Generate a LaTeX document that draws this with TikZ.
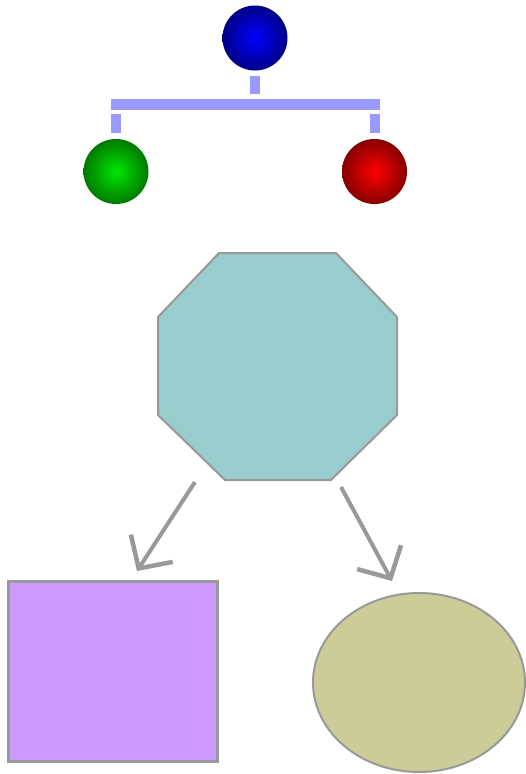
\documentclass[tikz,border=0pt]{standalone}
\usetikzlibrary{arrows.meta,shapes.geometric}

\definecolor{busblue}{RGB}{153,153,255}
\definecolor{edgegray}{RGB}{153,153,153}
\definecolor{octfill}{RGB}{153,204,204}
\definecolor{boxfill}{RGB}{204,153,255}
\definecolor{ovalfill}{RGB}{204,204,153}
\colorlet{sphc}{blue}

% sphere shading, bright in the middle, dark at the rim
\pgfdeclareradialshading[sphc]{sphere}{\pgfpoint{0bp}{0bp}}{color(0bp)=(sphc); color(16bp)=(sphc!70!black); color(50bp)=(sphc!5!black)}

\tikzset{
	sphere color/.code={\colorlet{sphc}{#1}},
	sphere/.style={circle, minimum size=65, inner sep=0, shading=sphere},
	bus/.style={busblue, line width=10, line cap=butt},
	shapeline/.style={draw=edgegray, line width=2},
	pointer/.style={edgegray, line width=4, -{Straight Barb[length=24pt,width=50pt,line width=4.5pt]}}
}
\tikzset{every picture/.style={line width=0.75pt}}

\begin{document}
\begin{tikzpicture}[x=1pt,y=1pt,yscale=-1]
	\fill[white] (0,0) rectangle (526,774);
	\useasboundingbox (0,0) rectangle (526,774);

	%Shape: Spheres
	\node[sphere, sphere color=blue] (top) at (255,38) {};
	\node[sphere, sphere color={rgb,255:red,0;green,230;blue,0}] (green) at (116,171.5) {};
	\node[sphere, sphere color=red] (red) at (374.5,171.5) {};

	%Straight Lines: tree connector
	\draw[bus] (top.south) ++(0,5) -- ++(0,18.5);
	\path (green.north) ++(-5,-34.5) coordinate (busL);
	\path (red.north) ++(5,-34.5) coordinate (busR);
	\draw[bus, line width=11] (busL) -- (busR);
	\draw[bus] (green.north) ++(0,-6) -- ++(0,-18.5);
	\draw[bus] (red.north) ++(0,-6) -- ++(0,-18.5);

	%Shape: Octagon
	\draw[shapeline, fill=octfill] (219,253) -- (336,253) -- (397,317) -- (397,415)
		-- (331,480) -- (225,480) -- (158,415) -- (158,317) -- cycle;
	\coordinate (octSW) at (195,482);
	\coordinate (octSE) at (341,487);

	%Shape: Rectangle
	\node[shapeline, line width=3, fill=boxfill, rectangle, minimum width=209, minimum height=180] (box) at (113,671.5) {};
	%Shape: Ellipse
	\node[shapeline, fill=ovalfill, ellipse, minimum width=212, minimum height=179] (oval) at (419,682.5) {};

	%Straight Lines: arrows
	\coordinate (boxIn) at (137,571);
	\coordinate (ovalIn) at (392,581);
	\draw[pointer] (octSW) -- (boxIn);
	\draw[pointer] (octSE) -- (ovalIn);

\end{tikzpicture}
\end{document}
